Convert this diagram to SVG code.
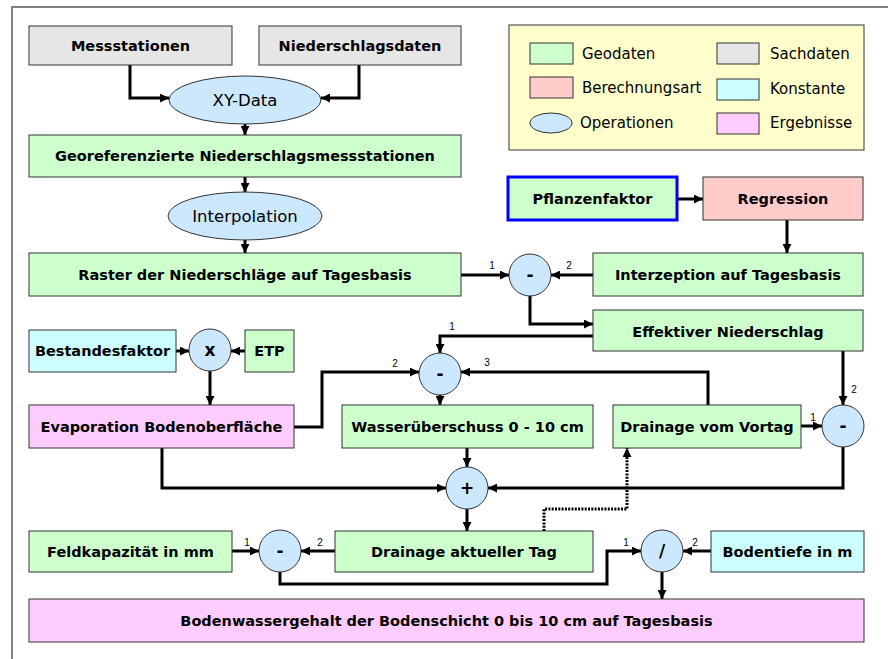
<svg xmlns="http://www.w3.org/2000/svg" width="888" height="659" viewBox="0 0 888 659">
<style>
.bg{fill:#ffffff}
.frame{fill:none;stroke:#808080;stroke-width:2}
.box{stroke:#333333;stroke-width:1}
.geo{fill:#ccffcc}
.sach{fill:#e6e6e6}
.ber{fill:#ffcccc}
.kon{fill:#ccffff}
.erg{fill:#ffccff}
.op{fill:#cce8ff;stroke:#333333;stroke-width:1}
.leg{fill:#ffffcc;stroke:#333333;stroke-width:1}
.blue{stroke:#0000ff;stroke-width:3}
.t{font-family:"DejaVu Sans","Liberation Sans",sans-serif;font-weight:bold;font-size:14.5px;fill:#000;text-anchor:middle}
.r{font-family:"DejaVu Sans","Liberation Sans",sans-serif;font-size:16.5px;fill:#000;text-anchor:middle}
.l{font-family:"DejaVu Sans","Liberation Sans",sans-serif;font-size:15px;fill:#000}
.s{font-family:"Liberation Sans","DejaVu Sans",sans-serif;font-size:10px;fill:#000;text-anchor:middle}
.o{font-family:"DejaVu Sans","Liberation Sans",sans-serif;font-weight:bold;font-size:17px;fill:#000;text-anchor:middle}
.c{fill:none;stroke:#000;stroke-width:3;marker-end:url(#ah)}
.d{fill:none;stroke:#000;stroke-width:3;stroke-dasharray:2 1.3;marker-end:url(#ah)}
</style>
<defs>
<marker id="ah" markerUnits="userSpaceOnUse" markerWidth="9" markerHeight="9" refX="9" refY="4.5" orient="auto">
<path d="M0,0 L9,4.5 L0,9 z" fill="#000"/>
</marker>
</defs>
<rect class="bg" x="0" y="0" width="888" height="659"/>
<path class="frame" d="M12,660 V7 H889"/>

<g id="legend">
<rect class="leg" x="509" y="25" width="355" height="125"/>
<rect class="box geo" x="530" y="43" width="43" height="21"/>
<text class="l" x="582" y="59">Geodaten</text>
<rect class="box ber" x="530" y="77" width="43" height="21"/>
<text class="l" x="582" y="93">Berechnungsart</text>
<ellipse class="op" cx="551" cy="123" rx="21" ry="10"/>
<text class="l" x="580" y="128">Operationen</text>
<rect class="box sach" x="717" y="43" width="42" height="21"/>
<text class="l" x="770" y="59">Sachdaten</text>
<rect class="box kon" x="717" y="79" width="42" height="21"/>
<text class="l" x="770" y="94">Konstante</text>
<rect class="box erg" x="717" y="113" width="42" height="21"/>
<text class="l" x="770" y="128">Ergebnisse</text>
</g>

<g id="connectors">
<path class="c" d="M130,65 V98 H169"/>
<path class="c" d="M359,65 V98 H321"/>
<path class="c" d="M245,124 V135"/>
<path class="c" d="M245,177 V192"/>
<path class="c" d="M245,240 V253"/>
<path class="c" d="M461,275 H509"/>
<path class="c" d="M593,275 H551"/>
<path class="c" d="M677,199 H703"/>
<path class="c" d="M787,220 V253"/>
<path class="c" d="M530,296 V324 H593"/>
<path class="c" d="M593,336 H440 V353"/>
<path class="c" d="M176,351 H189"/>
<path class="c" d="M245,351 H231"/>
<path class="c" d="M210,371 V405"/>
<path class="c" d="M294,427 H322 V372 H419"/>
<path class="c" d="M708,405 V372 H461"/>
<path class="c" d="M440,395 V405"/>
<path class="c" d="M843,351 V405"/>
<path class="c" d="M801,426 H822"/>
<path class="c" d="M843,447 V488 H488"/>
<path class="c" d="M162,448 V488 H446"/>
<path class="c" d="M467,448 V467"/>
<path class="c" d="M467,509 V531"/>
<path class="d" d="M544,531 V509 H627 V448"/>
<path class="c" d="M232,551 H259"/>
<path class="c" d="M335,551 H301"/>
<path class="c" d="M280,572 V584 H607 V551 H641"/>
<path class="c" d="M711,551 H683"/>
<path class="c" d="M662,572 V599"/>
<text class="s" x="492" y="269">1</text>
<text class="s" x="569" y="269">2</text>
<text class="s" x="452" y="330">1</text>
<text class="s" x="395" y="367">2</text>
<text class="s" x="487" y="366">3</text>
<text class="s" x="854" y="393">2</text>
<text class="s" x="813" y="421">1</text>
<text class="s" x="247" y="546">1</text>
<text class="s" x="320" y="546">2</text>
<text class="s" x="626" y="546">1</text>
<text class="s" x="695" y="546">2</text>
</g>

<g id="messstationen"><rect class="box sach" x="29" y="26" width="203" height="39"/><text class="t" x="130.5" y="51">Messstationen</text></g>
<g id="niederschlagsdaten"><rect class="box sach" x="259" y="26" width="202" height="39"/><text class="t" x="360" y="51">Niederschlagsdaten</text></g>
<g id="xydata"><ellipse class="op" cx="245" cy="100" rx="76" ry="24"/><text class="r" x="245" y="106">XY-Data</text></g>
<g id="georef"><rect class="box geo" x="29" y="135" width="432" height="42"/><text class="t" x="245" y="161">Georeferenzierte Niederschlagsmessstationen</text></g>
<g id="interpolation"><ellipse class="op" cx="245" cy="216" rx="77" ry="24"/><text class="r" x="245" y="222">Interpolation</text></g>
<g id="raster"><rect class="box geo" x="29" y="253" width="432" height="43"/><text class="t" x="245" y="280">Raster der Niederschläge auf Tagesbasis</text></g>
<g id="pflanzenfaktor"><rect class="geo blue" x="508" y="177" width="169" height="43"/><text class="t" x="592.5" y="204">Pflanzenfaktor</text></g>
<g id="regression"><rect class="box ber" x="703" y="177" width="160" height="43"/><text class="t" x="783" y="204">Regression</text></g>
<g id="interzeption"><rect class="box geo" x="593" y="253" width="270" height="43"/><text class="t" x="728" y="280">Interzeption auf Tagesbasis</text></g>
<g id="op-minus1"><circle class="op" cx="530" cy="275" r="21"/><text class="o" x="530" y="281">-</text></g>
<g id="effektiv"><rect class="box geo" x="593" y="310" width="270" height="41"/><text class="t" x="728" y="337">Effektiver Niederschlag</text></g>
<g id="bestandesfaktor"><rect class="box kon" x="29" y="330" width="147" height="42"/><text class="t" x="102.5" y="356">Bestandesfaktor</text></g>
<g id="op-mult"><circle class="op" cx="210" cy="350" r="21"/><text class="o" x="210" y="356">x</text></g>
<g id="etp"><rect class="box geo" x="245" y="330" width="49" height="42"/><text class="t" x="269.5" y="356">ETP</text></g>
<g id="op-minus2"><circle class="op" cx="440" cy="374" r="21"/><text class="o" x="440" y="380">-</text></g>
<g id="evaporation"><rect class="box erg" x="29" y="405" width="265" height="43"/><text class="t" x="161.5" y="432">Evaporation Bodenoberfläche</text></g>
<g id="wasserueberschuss"><rect class="box geo" x="342" y="405" width="251" height="43"/><text class="t" x="467.5" y="432">Wasserüberschuss 0 - 10 cm</text></g>
<g id="drainage-vortag"><rect class="box geo" x="613" y="405" width="188" height="43"/><text class="t" x="707" y="432">Drainage vom Vortag</text></g>
<g id="op-minus3"><circle class="op" cx="843" cy="426" r="21"/><text class="o" x="843" y="432">-</text></g>
<g id="op-plus"><circle class="op" cx="467" cy="488" r="21"/><text class="o" x="467" y="494">+</text></g>
<g id="feldkapazitaet"><rect class="box geo" x="29" y="531" width="203" height="41"/><text class="t" x="130.5" y="557">Feldkapazität in mm</text></g>
<g id="op-minus4"><circle class="op" cx="280" cy="551" r="21"/><text class="o" x="280" y="557">-</text></g>
<g id="drainage-aktuell"><rect class="box geo" x="335" y="531" width="258" height="41"/><text class="t" x="464" y="557">Drainage aktueller Tag</text></g>
<g id="op-div"><circle class="op" cx="662" cy="551" r="21"/><text class="o" x="662" y="557">/</text></g>
<g id="bodentiefe"><rect class="box kon" x="711" y="531" width="153" height="41"/><text class="t" x="787.5" y="557">Bodentiefe in m</text></g>
<g id="bodenwassergehalt"><rect class="box erg" x="29" y="599" width="835" height="43"/><text class="t" x="446.5" y="626">Bodenwassergehalt der Bodenschicht 0 bis 10 cm auf Tagesbasis</text></g>
</svg>
